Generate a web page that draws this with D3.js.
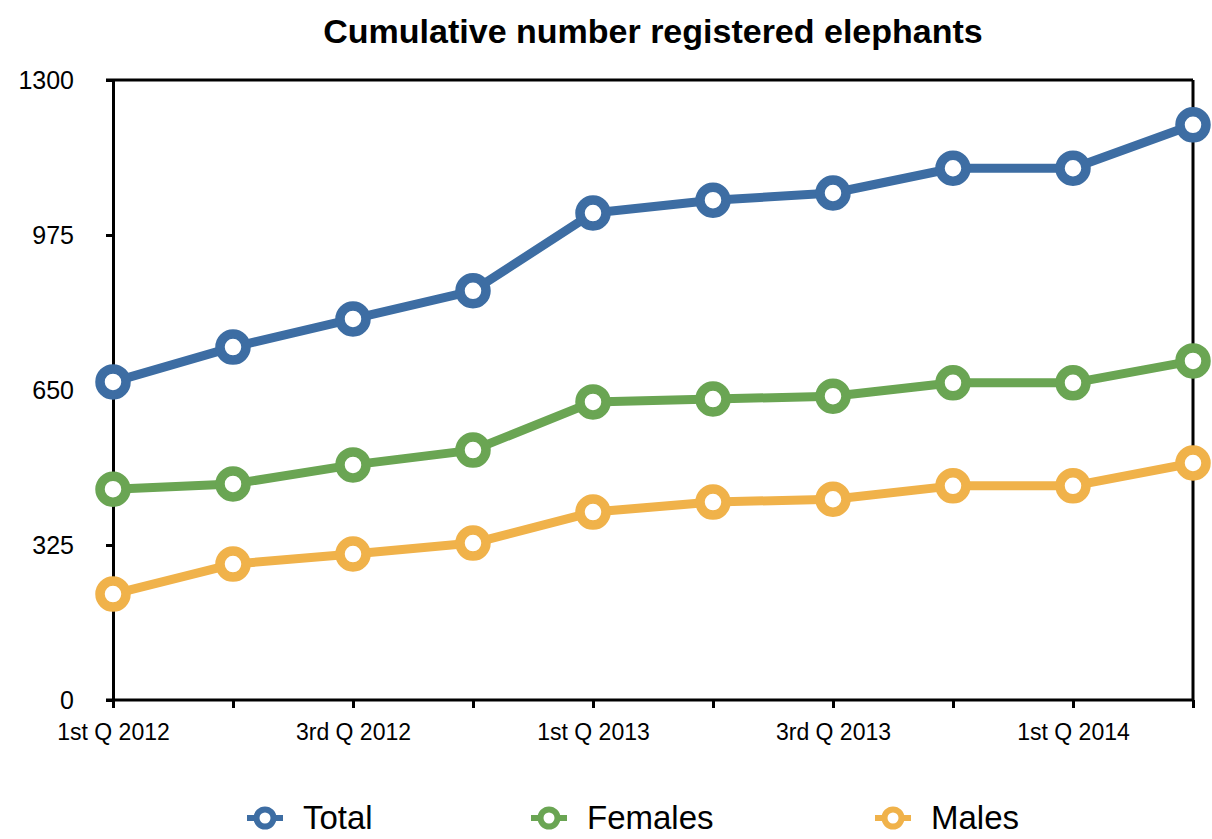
<!DOCTYPE html>
<html>
<head>
  <script src="https://cdnjs.cloudflare.com/ajax/libs/d3/7.8.5/d3.min.js"></script>
  <style>
    body { margin: 0; background: white; font-family: "Liberation Sans", Arial, sans-serif; }
    .axis path, .axis line { stroke: black; stroke-width: 3px; }
    .axis text { fill: black; font-family: "Liberation Sans", Arial, sans-serif; }
  </style>
</head>
<body>
  <div id="chart"></div>
  <script>
    // quarters (only every other one gets a label)
    const quarters = ["1st Q 2012", "2nd Q 2012", "3rd Q 2012", "4th Q 2012",
                      "1st Q 2013", "2nd Q 2013", "3rd Q 2013", "4th Q 2013",
                      "1st Q 2014", "2nd Q 2014"];
    const total   = [667, 740, 799, 858, 1021, 1048, 1063, 1115, 1115, 1206];
    const females = [442, 453, 493, 524, 625, 631, 637, 665, 665, 711];
    const males   = [222, 285, 306, 329, 394, 415, 421, 449, 449, 497];
    const yTicks  = [0, 325, 650, 975, 1300];

    const series = [
      { name: "Total",   values: total,   color: "#3d6da3" },
      { name: "Females", values: females, color: "#6aa553" },
      { name: "Males",   values: males,   color: "#f0b24a" }
    ];

    const width = 1212, height = 839;
    const margin = { left: 113, right: 19, top: 80, bottom: 139 };

    const svg = d3.select("#chart").append("svg")
      .attr("width", width)
      .attr("height", height);

    const x = d3.scalePoint()
      .domain(quarters)
      .range([margin.left, width - margin.right]);

    const y = d3.scaleLinear()
      .domain([0, 1300])
      .range([height - margin.bottom, margin.top]);

    // title
    svg.append("text")
      .attr("x", 653)
      .attr("y", 43)
      .attr("text-anchor", "middle")
      .style("font-size", "34px")
      .style("font-weight", "bold")
      .text("Cumulative number registered elephants");

    // frame: top and right edges
    svg.append("line")
      .attr("x1", margin.left - 7).attr("x2", width - margin.right)
      .attr("y1", y(1300)).attr("y2", y(1300))
      .attr("stroke", "black").attr("stroke-width", 3);
    svg.append("line")
      .attr("x1", width - margin.right).attr("x2", width - margin.right)
      .attr("y1", y(1300)).attr("y2", y(0))
      .attr("stroke", "black").attr("stroke-width", 3);

    // y axis
    const yAxis = svg.append("g")
      .attr("class", "axis")
      .attr("transform", `translate(${margin.left},0)`)
      .call(d3.axisLeft(y).tickValues(yTicks).tickFormat(d3.format("d"))
        .tickSize(7).tickSizeOuter(0).tickPadding(32));
    yAxis.selectAll("text").style("font-size", "25px").attr("dy", "0.35em");

    // x axis
    const xAxis = svg.append("g")
      .attr("class", "axis")
      .attr("transform", `translate(0,${y(0)})`)
      .call(d3.axisBottom(x)
        .tickSize(8).tickSizeOuter(0).tickPadding(16)
        .tickFormat((d, i) => i % 2 === 0 ? d : ""));
    xAxis.select(".domain").attr("d", `M${margin.left - 7},0H${width - margin.right}`);
    xAxis.selectAll("text").style("font-size", "23px");

    // lines + markers
    const line = d3.line()
      .x((d, i) => x(quarters[i]))
      .y(d => y(d));

    series.forEach(s => {
      svg.append("path")
        .datum(s.values)
        .attr("fill", "none")
        .attr("stroke", s.color)
        .attr("stroke-width", 9)
        .attr("stroke-linejoin", "round")
        .attr("d", line);

      svg.selectAll(null)
        .data(s.values)
        .enter()
        .append("circle")
        .attr("cx", (d, i) => x(quarters[i]))
        .attr("cy", d => y(d))
        .attr("r", 13)
        .attr("fill", "white")
        .attr("stroke", s.color)
        .attr("stroke-width", 9.5);
    });

    // legend
    const legendX = [265, 549, 893];
    const legend = svg.selectAll(".legend")
      .data(series)
      .enter()
      .append("g")
      .attr("transform", (d, i) => `translate(${legendX[i]},818)`);

    legend.append("line")
      .attr("x1", -18).attr("x2", 18)
      .attr("stroke", d => d.color)
      .attr("stroke-width", 6);
    legend.append("circle")
      .attr("r", 8.5)
      .attr("fill", "white")
      .attr("stroke", d => d.color)
      .attr("stroke-width", 6);
    legend.append("text")
      .attr("x", 38)
      .attr("y", 11)
      .style("font-size", "33px")
      .text(d => d.name);
  </script>
</body>
</html>
